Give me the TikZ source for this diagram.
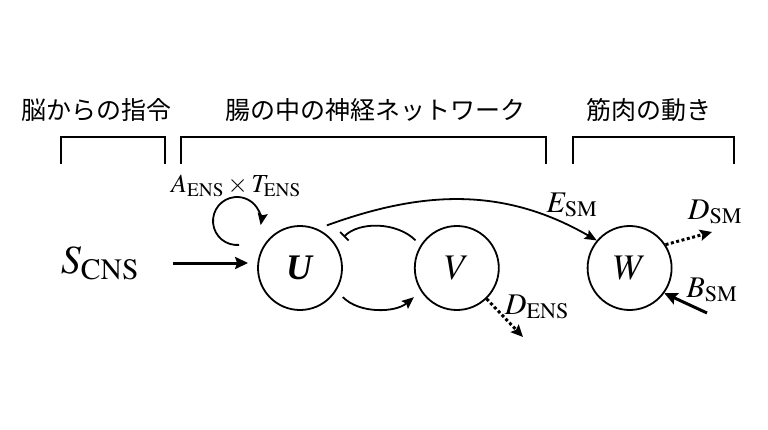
\documentclass[tikz,border=0pt]{standalone}
\usepackage{mathptmx}
\usepackage{fontspec}
\setmainfont{Liberation Serif}
\newfontfamily\jpfont{Noto Sans CJK JP}
\usetikzlibrary{arrows.meta,positioning}
\tikzset{
    %Define standard arrow tip
    >={Stealth[length=12pt,width=10pt,inset=2pt]},
    %Define style for cells
    cell/.style={
           circle,
           draw=black, line width=1.8pt,
           minimum size=84pt,
           inner sep=0pt,
           font=\fontsize{36}{40}\selectfont},
    heading/.style={
           font=\jpfont\fontsize{25}{30}\selectfont,
           inner sep=0pt},
    rate/.style={
           font=\fontsize{30}{34}\selectfont,
           inner sep=0pt},
    % Define arrow styles
    pil/.style={
           ->,
           line width=1.8pt},
    bold/.style={
           -{Stealth[length=13pt,width=12pt,inset=2pt]},
           line width=3pt},
    leak/.style={
           -{Stealth[length=12pt,width=11pt,inset=2pt]},
           line width=3pt,
           dash pattern=on 3pt off 2.5pt},
    bracket/.style={line width=2.5pt}
}
\begin{document}
\begin{tikzpicture}[x=1pt,y=1pt]
\useasboundingbox (0,0) rectangle (768,429);
% headings and brackets
\node[heading] (brain) at (96.5,319) {脳からの指令};
\node[heading] (gut) at (375,319) {腸の中の神経ネットワーク};
\node[heading] (muscle) at (649,319) {筋肉の動き};
\draw[bracket] (61,265) |- (165,292) -- (165,265);
\draw[bracket] (181,265) |- (546,292) -- (546,265);
\draw[bracket] (573,265) |- (734,292) -- (734,265);
% cells
\node[cell] (U) at (300,161) {\textbf{\textit{U}}};
\node[cell, right=71pt of U] (V) {$V$};
\node[cell, right=87pt of V] (W) {$W$};
% rates
\node[rate, font=\fontsize{40}{44}\selectfont] (S) at (100,166) {$S_{\mathrm{CNS}}$};
\node[rate, font=\fontsize{26}{30}\selectfont] (aens) at (236,243) {$A_{\mathrm{ENS}}\times T_{\mathrm{ENS}}$};
\node[rate] (esm) at (572,224) {$E_{\mathrm{SM}}$};
\node[rate] (dens) at (537,122) {$D_{\mathrm{ENS}}$};
\node[rate] (dsm) at (715,217) {$D_{\mathrm{SM}}$};
\node[rate] (bsm) at (712,139) {$B_{\mathrm{SM}}$};
\coordinate (loop) at (237,208);
\coordinate (dens end) at (523,92);
\coordinate (dsm end) at (712,197);
\coordinate (bsm start) at (707,116);
% connectors
\draw[bold, shorten <=34pt, shorten >=9pt] (S.east) -- (S.east -| U.west);
\draw[pil] (loop) ++(275:24) arc[start angle=275, end angle=-10, radius=24];
\draw[pil, shorten <=9pt, shorten >=9pt] (U.-32) to[out=-45, in=-140] (V.213);
\draw[pil, -{Bar[width=12pt]}, shorten <=7pt, shorten >=11pt] (V.148) to[out=135, in=45] (U.33);
\draw[pil, shorten <=10pt] (U.66) to[out=20, in=150] (W.140);
\draw[leak] (V.-46) -- (dens end);
\draw[leak] (W.33) -- (dsm end);
\draw[bold] (bsm start) -- (W.-36);
\end{tikzpicture}
\end{document}
